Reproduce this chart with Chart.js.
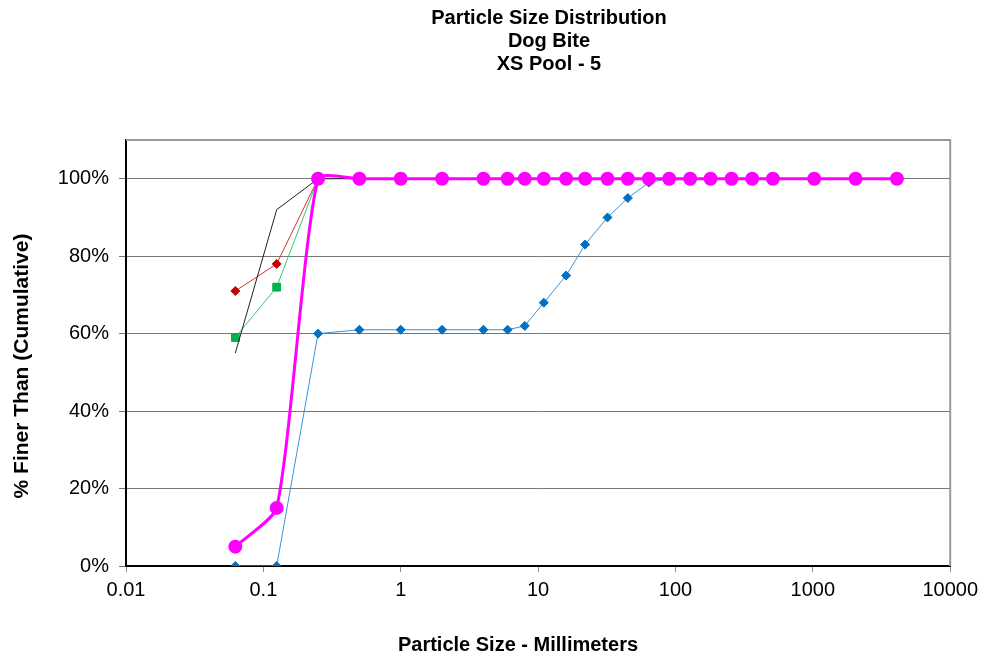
<!DOCTYPE html>
<html>
<head>
<meta charset="utf-8">
<script src="https://cdn.jsdelivr.net/npm/chart.js@4/dist/chart.umd.min.js"></script>
<style>
    body { margin: 0; background: #fff; }
    canvas { display: block; }
</style>
</head>
<body>
<canvas id="psd" width="984" height="659"></canvas>
<script>
const titleLines = ['Particle Size Distribution', 'Dog Bite', 'XS Pool - 5'];
const xTitle = 'Particle Size - Millimeters';
const yTitle = '% Finer Than (Cumulative)';

// sieve sizes in mm
const sizes = [0.0625, 0.125, 0.25, 0.5, 1, 2, 4, 6, 8, 11, 16, 22, 32, 45, 64, 90, 128, 180, 256, 362, 512, 1024, 2048, 4096];

// percent finer, one value per size (shorter series stop early)
const pinkPct = [5, 15, 100, 100, 100, 100, 100, 100, 100, 100, 100, 100, 100, 100, 100, 100, 100, 100, 100, 100, 100, 100, 100, 100];
const bluePct = [0, 0, 60, 61, 61, 61, 61, 61, 62, 68, 75, 83, 90, 95, 99, 100, 100, 100, 100, 100, 100, 100, 100, 100];
const redPct = [71, 78, 100];
const greenPct = [59, 72, 100];
const blackPct = [55, 92, 100, 100];

const xTicks = [0.01, 0.1, 1, 10, 100, 1000, 10000];
const yTicks = [0, 20, 40, 60, 80, 100];

const font = 'Arial, "Liberation Sans", sans-serif';

function points(values) {
    return values.map((y, i) => ({ x: sizes[i], y }));
}

// gray frame round the plot, then text drawn at fixed spots
const frame = {
    id: 'frame',
    beforeDatasetsDraw(chart) {
        const a = chart.chartArea;
        const ctx = chart.ctx;
        ctx.save();
        ctx.strokeStyle = '#999';
        ctx.lineWidth = 2;
        ctx.beginPath();
        ctx.moveTo(a.left, a.top);
        ctx.lineTo(a.right, a.top);
        ctx.lineTo(a.right, a.bottom);
        ctx.stroke();
        ctx.restore();
    },
    afterDraw(chart) {
        const ctx = chart.ctx;
        ctx.save();
        ctx.fillStyle = '#000';
        ctx.textAlign = 'center';
        ctx.textBaseline = 'middle';
        ctx.font = 'bold 20px ' + font;
        titleLines.forEach((t, i) => ctx.fillText(t, 549, 18 + i * 23));
        ctx.fillText(xTitle, 518, 645);
        ctx.font = 'bold 21px ' + font;
        ctx.translate(22, 366);
        ctx.rotate(-Math.PI / 2);
        ctx.fillText(yTitle, 0, 0);
        ctx.restore();
    }
};

new Chart(document.getElementById('psd'), {
    type: 'line',
    data: {
        datasets: [
            {
                data: points(pinkPct),
                borderColor: '#ff00ff',
                backgroundColor: '#ff00ff',
                borderWidth: 3,
                pointRadius: 5.5,
                pointStyle: 'circle',
                tension: 0.2
            },
            {
                data: points(blackPct),
                borderColor: '#222',
                borderWidth: 1,
                pointRadius: 0,
                tension: 0
            },
            {
                data: points(greenPct),
                borderColor: '#2ecc71',
                backgroundColor: '#00b050',
                pointBorderColor: '#00b050',
                borderWidth: 1,
                pointRadius: 5.5,
                pointStyle: 'rect',
                tension: 0
            },
            {
                data: points(redPct),
                borderColor: '#d83030',
                backgroundColor: '#c00000',
                pointBorderColor: '#c00000',
                borderWidth: 1,
                pointRadius: 4.5,
                pointStyle: 'rectRot',
                tension: 0
            },
            {
                data: points(bluePct),
                borderColor: '#3b93d8',
                backgroundColor: '#0070c0',
                pointBorderColor: '#0070c0',
                borderWidth: 1,
                pointRadius: 4.5,
                pointStyle: 'rectRot',
                tension: 0
            }
        ]
    },
    options: {
        responsive: false,
        animation: false,
        layout: { padding: { left: 0, right: 33, top: 140, bottom: 0 } },
        plugins: {
            legend: { display: false },
            tooltip: { enabled: false }
        },
        scales: {
            x: {
                type: 'logarithmic',
                min: 0.01,
                max: 10000,
                afterBuildTicks: s => { s.ticks = xTicks.map(v => ({ value: v })); },
                afterFit: s => { s.height = 93; },
                ticks: {
                    autoSkip: false,
                    maxRotation: 0,
                    padding: 6,
                    color: '#000',
                    font: { family: font, size: 20 },
                    callback: v => String(v)
                },
                grid: { drawOnChartArea: false, tickLength: 6, color: '#888' },
                border: { color: '#000', width: 2 }
            },
            y: {
                min: 0,
                max: 110,
                afterBuildTicks: s => { s.ticks = yTicks.map(v => ({ value: v })); },
                afterFit: s => { s.width = 126; },
                ticks: {
                    padding: 10,
                    color: '#000',
                    font: { family: font, size: 20 },
                    callback: v => v + '%'
                },
                grid: { color: '#777', tickLength: 7 },
                border: { color: '#000', width: 2 }
            }
        }
    },
    plugins: [frame]
});
</script>
</body>
</html>
